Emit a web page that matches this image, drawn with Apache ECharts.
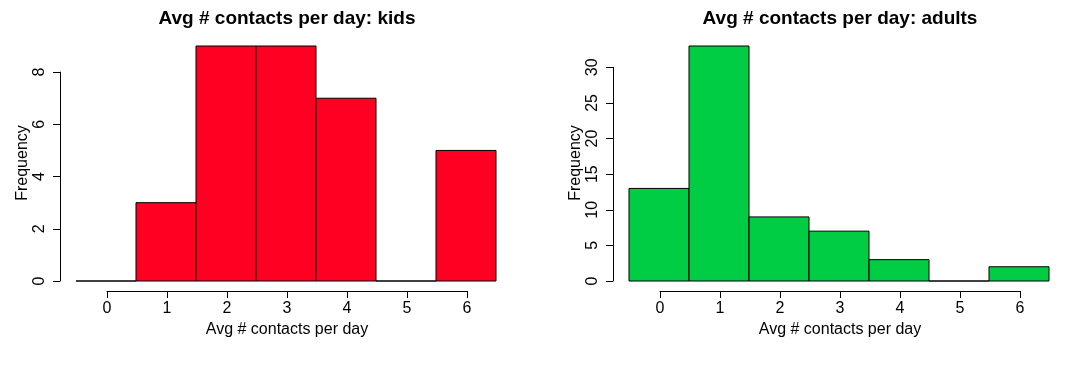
<!DOCTYPE html>
<html><head><meta charset="utf-8">
<script src="https://cdn.jsdelivr.net/npm/echarts@6/dist/echarts.min.js"></script>
<style>html,body{margin:0;padding:0;background:#fff}#c{width:1077px;height:379px}</style>
</head><body><div id="c"></div>
<script>
const binStarts = [-0.5, 0.5, 1.5, 2.5, 3.5, 4.5, 5.5];
const binWidth = 1;
const kidsCounts = [0, 3, 9, 9, 7, 0, 5];
const adultsCounts = [13, 33, 9, 7, 3, 0, 2];
const xTicks = [0, 1, 2, 3, 4, 5, 6];
const titles = ['Avg # contacts per day: kids', 'Avg # contacts per day: adults'];
const xTitle = 'Avg # contacts per day';
const yTitle = 'Frequency';

const FONT = '"Liberation Sans", Arial, Helvetica, sans-serif';
const chart = echarts.init(document.getElementById('c'), null, {renderer: 'canvas'});

function panel(idx, left, yMax, yAxisMax, yInterval, counts, color) {
  const bottom = 98;
  const plotH = 235;
  const pxPerUnit = plotH / yMax;
  const yDispTop = 379 - bottom - yAxisMax * pxPerUnit;
  const grids = [
    {left: left, width: 420, top: 281 - plotH, bottom: bottom},
    {left: left + 31, width: 360, top: 281 - plotH, bottom: bottom},
    {left: left, width: 420, top: yDispTop, bottom: bottom}
  ];
  const g0 = idx * 3;
  const hiddenAxis = {show: false};
  const xAxes = [
    Object.assign({gridIndex: g0, type: 'value', min: -0.5, max: 6.5}, hiddenAxis),
    {gridIndex: g0 + 1, type: 'value', min: xTicks[0], max: xTicks[xTicks.length - 1], interval: 1, position: 'bottom', offset: 10,
      axisLine: {show: true, onZero: false, lineStyle: {color: '#000', width: 1}},
      axisTick: {show: true, inside: false, length: 7, lineStyle: {color: '#000'}},
      axisLabel: {color: '#000', fontSize: 16, fontFamily: FONT, margin: 10},
      splitLine: {show: false},
      name: xTitle, nameLocation: 'middle', nameGap: 30,
      nameTextStyle: {color: '#000', fontSize: 16, fontFamily: FONT}},
    Object.assign({gridIndex: g0 + 2, type: 'value', min: 0, max: 1}, hiddenAxis)
  ];
  const yAxes = [
    Object.assign({gridIndex: g0, type: 'value', min: 0, max: yMax}, hiddenAxis),
    Object.assign({gridIndex: g0 + 1, type: 'value', min: 0, max: 1}, hiddenAxis),
    {gridIndex: g0 + 2, type: 'value', min: 0, max: yAxisMax, interval: yInterval, position: 'left', offset: 16,
      axisLine: {show: true, onZero: false, lineStyle: {color: '#000', width: 1}},
      axisTick: {show: true, inside: false, length: 7, lineStyle: {color: '#000'}},
      axisLabel: {color: '#000', fontSize: 16, fontFamily: FONT, rotate: 90, margin: 12},
      splitLine: {show: false}}
  ];
  const data = binStarts.map((s, i) => [s, s + binWidth, counts[i]]);
  const series = [{
    type: 'custom', xAxisIndex: g0, yAxisIndex: g0, clip: false,
    data: data,
    encode: {x: [0, 1], y: 2},
    renderItem: function (params, api) {
      const p0 = api.coord([api.value(0), 0]);
      const p1 = api.coord([api.value(1), api.value(2)]);
      return {
        type: 'rect',
        shape: {x: p0[0], y: p1[1], width: p1[0] - p0[0], height: p0[1] - p1[1]},
        style: {fill: color, stroke: '#000', lineWidth: 1}
      };
    }
  }];
  return {grids, xAxes, yAxes, series,
    title: {text: titles[idx], left: left + 206, top: 4, textAlign: 'center',
      textStyle: {fontSize: 19, fontWeight: 'bold', color: '#000', fontFamily: FONT}},
    graphic: {type: 'text', x: left - 53, y: 163, rotation: Math.PI / 2,
      style: {text: yTitle, fill: '#000', fontSize: 16, fontFamily: FONT, textAlign: 'center', textVerticalAlign: 'middle'}}
  };
}

const p1 = panel(0, 76, 9, 8, 2, kidsCounts, '#FF0022');
const p2 = panel(1, 629, 33, 30, 5, adultsCounts, '#00CC44');

chart.setOption({
  animation: false,
  backgroundColor: '#fff',
  title: [p1.title, p2.title],
  grid: p1.grids.concat(p2.grids),
  xAxis: p1.xAxes.concat(p2.xAxes),
  yAxis: p1.yAxes.concat(p2.yAxes),
  series: p1.series.concat(p2.series),
  graphic: [p1.graphic, p2.graphic]
});
</script></body></html>
